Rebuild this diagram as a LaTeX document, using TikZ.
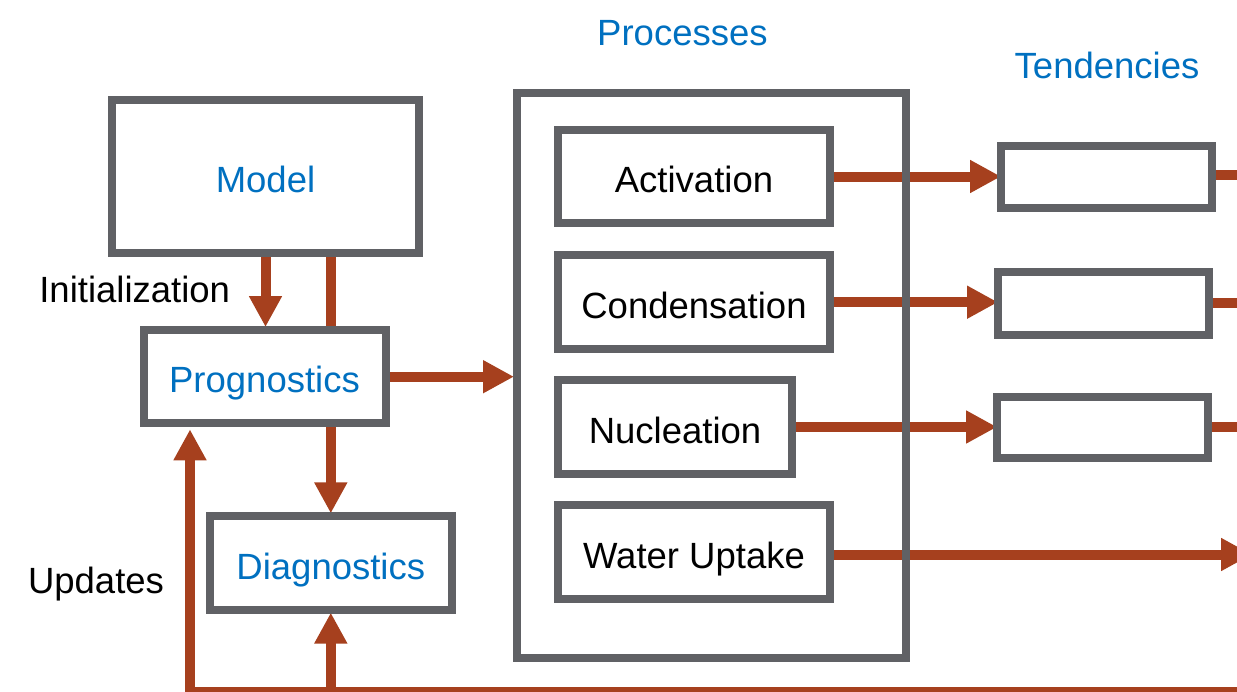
\documentclass[tikz,border=0pt]{standalone}
\usepackage{fontspec}
\setmainfont{Liberation Sans}
\usetikzlibrary{arrows.meta,backgrounds}
\definecolor{cgray}{RGB}{96,97,101}
\definecolor{cred}{RGB}{166,64,30}
\definecolor{cblue}{RGB}{0,112,192}
\tikzset{
  txt/.style={font=\fontsize{36.5}{40}\selectfont},
  box/.style={draw=cgray, line width=8pt, inner sep=0pt, txt,
    text height=32pt, text depth=0pt, align=center},
  arr/.style={draw=cred, line width=10pt, line cap=butt,
    -{Triangle[length=31pt,width=31pt]}},
  plainline/.style={draw=cred, line width=10pt, line cap=butt},
  lbl/.style={txt, anchor=base, inner sep=0pt}
}
\begin{document}
\begin{tikzpicture}[x=1pt,y=-1pt]
\clip (0,0) rectangle (1237,691);
\useasboundingbox (0,0) rectangle (1237,691);

% boxes
\node[box, minimum width=307pt, minimum height=153.3pt, text=cblue] (model) at (265.5,176.7) {Model};
\node[box, minimum width=242pt, minimum height=93.3pt, text=cblue] (prog) at (264.5,376.7) {Prognostics};
\node[box, minimum width=242.3pt, minimum height=93.2pt, text=cblue] (diag) at (330.8,563) {Diagnostics};
\node[box, minimum width=389pt, minimum height=565pt] (proc) at (711.5,375.5) {};
\node[box, minimum width=272pt, minimum height=93pt] (act) at (694,176.5) {Activation};
\node[box, minimum width=272pt, minimum height=93.5pt] (cond) at (694,302.2) {Condensation};
\node[box, minimum width=234pt, minimum height=94pt] (nuc) at (675,427) {Nucleation};
\node[box, minimum width=272pt, minimum height=94pt] (wu) at (694,552) {Water Uptake};
\node[box, minimum width=211pt, minimum height=62pt] (t1) at (1106.5,177.4) {};
\node[box, minimum width=211pt, minimum height=62.2pt] (t2) at (1103.5,303.4) {};
\node[box, minimum width=211.3pt, minimum height=61.8pt] (t3) at (1102.7,427.4) {};

% labels
\node[lbl, text=cblue] (lproc) at (682.4,45) {Processes};
\node[lbl, text=cblue] (ltend) at (1107,78.5) {Tendencies};
\node[lbl] (linit) at (134.7,302.3) {Initialization};
\node[lbl] (lupd) at (96,593) {Updates};

% free ends
\coordinate (edge) at (1250,0);
\coordinate (wuend) at (1252,554.5);
\coordinate (botR) at (1250,691.5);
\coordinate (botL) at (190,691.5);

\begin{scope}[on background layer]
  \draw[arr, shorten >=-1pt] (model.south) -- (model.south |- prog.north);
  \draw[plainline] ([xshift=65pt]model.south) -- ([xshift=65pt]model.south |- prog.north);
  \draw[arr, shorten >=-1pt] (diag.north |- prog.south) -- (diag.north);
  \draw[arr, shorten >=-1pt] (prog.east) -- (prog.east -| proc.west);
  \draw[arr, shorten >=-4pt] (act.east) -- (act.east -| t1.west);
  \draw[arr, shorten >=-4pt] (cond.east) -- (cond.east -| t2.west);
  \draw[arr, shorten >=-4pt] (nuc.east) -- (nuc.east -| t3.west);
  \draw[arr] ([yshift=-2.5pt]wu.east) -- (wuend);
  \draw[plainline] ([yshift=2pt]t1.east) -- ([yshift=2pt]t1.east -| edge);
  \draw[plainline] (t2.east) -- (t2.east -| edge);
  \draw[plainline] (t3.east) -- (t3.east -| edge);
  \draw[arr, shorten >=2pt, line join=miter] (botR) -- (botL) -- (botL |- prog.south);
  \draw[arr, shorten >=-1pt] (diag.south |- botL) -- (diag.south);
\end{scope}
\end{tikzpicture}
\end{document}
